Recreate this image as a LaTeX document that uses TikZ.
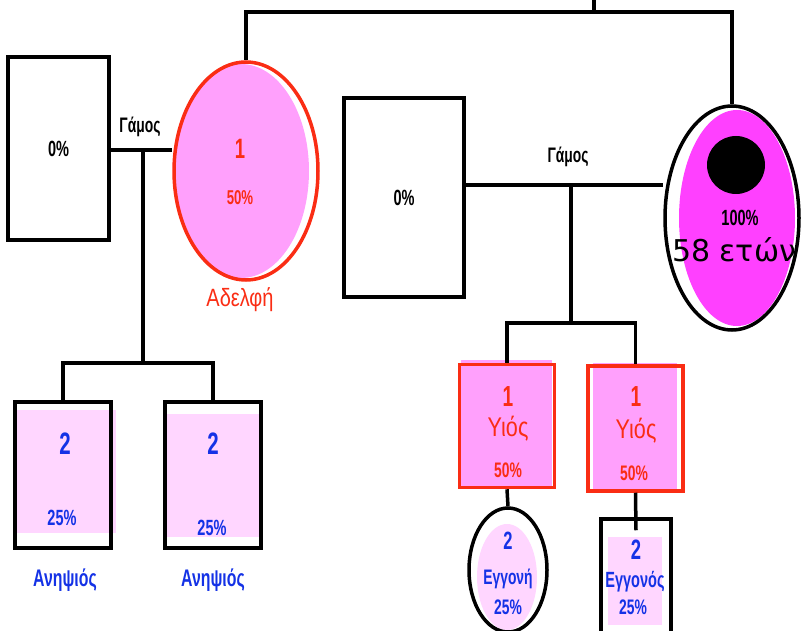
\documentclass[tikz,border=0pt]{standalone}
\usepackage{fontspec}
\setmainfont{Liberation Sans}
\newfontfamily\narrow[FakeStretch=0.8]{Liberation Sans}
\newfontfamily\cond[FakeStretch=0.66]{Liberation Sans}
\newfontfamily\agefont{DejaVu Sans}
\usetikzlibrary{shapes.geometric}

\definecolor{kinred}{RGB}{250,45,20}
\definecolor{kinblue}{RGB}{20,50,230}
\definecolor{sispink}{RGB}{255,160,252}
\definecolor{nephpink}{RGB}{255,214,255}
\definecolor{mompink}{RGB}{255,64,255}

\begin{document}
\begin{tikzpicture}[
    x=1pt, y=-1pt,
    male/.style={rectangle, draw=black, line width=4.5pt, inner sep=0pt},
    female/.style={ellipse, draw=black, line width=3.5pt, inner sep=0pt},
    wire/.style={draw, line width=3.5pt},
    txt/.style={inner sep=0pt, font=\cond\bfseries\fontsize{#1}{#1}\selectfont},
    rel/.style={inner sep=0pt, font=\narrow\fontsize{#1}{#1}\selectfont}
]
\useasboundingbox (0,0) rectangle (806,631);

% --- Αδελφή και σύζυγος ---
\node[male, minimum width=101pt, minimum height=183pt, txt=22] (husb1) at (58.5,148.5) {0\%};
\fill[sispink] (241,171) ellipse (68 and 107);
\node[female, draw=kinred, minimum width=144pt, minimum height=218pt] (sister) at (246,171) {};
\node[txt=28, text=kinred] (sis1) at (240,149) {1};
\node[txt=20, text=kinred] (sis2) at (240,198) {50\%};
\node[rel=25, text=kinred] (sis3) at (240,300) {Αδελφή};
\node[txt=21] (gam1) at (140,127) {Γάμος};

% --- Μητέρα και σύζυγος ---
\node[male, minimum width=120pt, minimum height=199pt, txt=22] (husb2) at (404,197.5) {0\%};
\fill[mompink] (737,218) ellipse (58 and 108);
\node[female, minimum width=134pt, minimum height=224pt] (mother) at (732,218) {};
\node[circle, fill=black, minimum size=58pt, inner sep=0pt] (dot) at (736,165) {};
\node[txt=22] (mom1) at (740,218) {100\%};
\node[inner sep=0pt, font=\agefont\fontsize{30}{30}\selectfont] (mom2) at (734,250) {58 ετών};
\node[txt=21] (gam2) at (568,157) {Γάμος};

% --- Ανηψιοί ---
\fill[nephpink] (15,410) rectangle (116,533);
\node[male, minimum width=96pt, minimum height=146pt] (neph1) at (63,475) {};
\fill[nephpink] (163,414) rectangle (263,537);
\node[male, minimum width=96pt, minimum height=146pt] (neph2) at (213,475) {};
\node[txt=31, text=kinblue] (n1a) at (65,444) {2};
\node[txt=22, text=kinblue] (n1b) at (62,518) {25\%};
\node[txt=24, text=kinblue] (n1c) at (65,580) {Ανηψιός};
\node[txt=31, text=kinblue] (n2a) at (213,444) {2};
\node[txt=22, text=kinblue] (n2b) at (212,528) {25\%};
\node[txt=24, text=kinblue] (n2c) at (213,580) {Ανηψιός};

% --- Γιοι ---
\fill[sispink] (461,360) rectangle (552,488);
\node[male, draw=kinred, line width=3.5pt, minimum width=95pt, minimum height=123pt] (son1) at (507,426) {};
\fill[sispink] (593,363) rectangle (677,493);
\node[male, draw=kinred, line width=3.5pt, minimum width=95pt, minimum height=125pt] (son2) at (635.5,428.5) {};
\node[txt=29, text=kinred] (s1a) at (508,397) {1};
\node[rel=27, text=kinred] (s1b) at (508,429) {Υιός};
\node[txt=21, text=kinred] (s1c) at (508,470) {50\%};
\node[txt=29, text=kinred] (s2a) at (636,397) {1};
\node[rel=27, text=kinred] (s2b) at (636,431) {Υιός};
\node[txt=21, text=kinred] (s2c) at (634,473) {50\%};

% --- Εγγόνια ---
\fill[nephpink] (507,577) ellipse (30 and 53);
\node[female, minimum width=78pt, minimum height=124pt] (gdau) at (508,570) {};
\fill[nephpink] (608,537) rectangle (662,625);
\node[male, line width=3.5pt, minimum width=70pt, minimum height=124pt] (gson) at (636,581) {};
\node[txt=25, text=kinblue] (g1a) at (508,541) {2};
\node[txt=21, text=kinblue] (g1b) at (508,579) {Εγγονή};
\node[txt=21, text=kinblue] (g1c) at (508,607) {25\%};
\node[txt=28, text=kinblue] (g2a) at (636,550) {2};
\node[txt=22, text=kinblue] (g2b) at (635,582) {Εγγονός};
\node[txt=21, text=kinblue] (g2c) at (633,607) {25\%};

% γραμμές
\coordinate (top) at (594,12);
\coordinate (topup) at (594,0);
\draw[wire] (sister.north) |- (top) -| (mother.north);
\draw[wire] (top) -- (topup);

\coordinate (wed1) at (143,150);
\coordinate (sib1) at (143,363);
\draw[wire] (husb1.east |- wed1) -- (wed1 -| sister.west);
\draw[wire] (wed1) -- (sib1);
\draw[wire] (neph1.north) |- (sib1) -| (neph2.north);

\coordinate (wed2) at (571,185);
\coordinate (sib2) at (571,323);
\draw[wire] (husb2.east |- wed2) -- (wed2 -| mother.west);
\draw[wire] (wed2) -- (sib2);
\draw[wire] (son1.north) |- (sib2) -| (son2.north);

\draw[wire] (son1.south) -- (gdau.north);
\draw[wire] (son2.south) -- ([yshift=-13pt]gson.north);
\end{tikzpicture}
\end{document}
